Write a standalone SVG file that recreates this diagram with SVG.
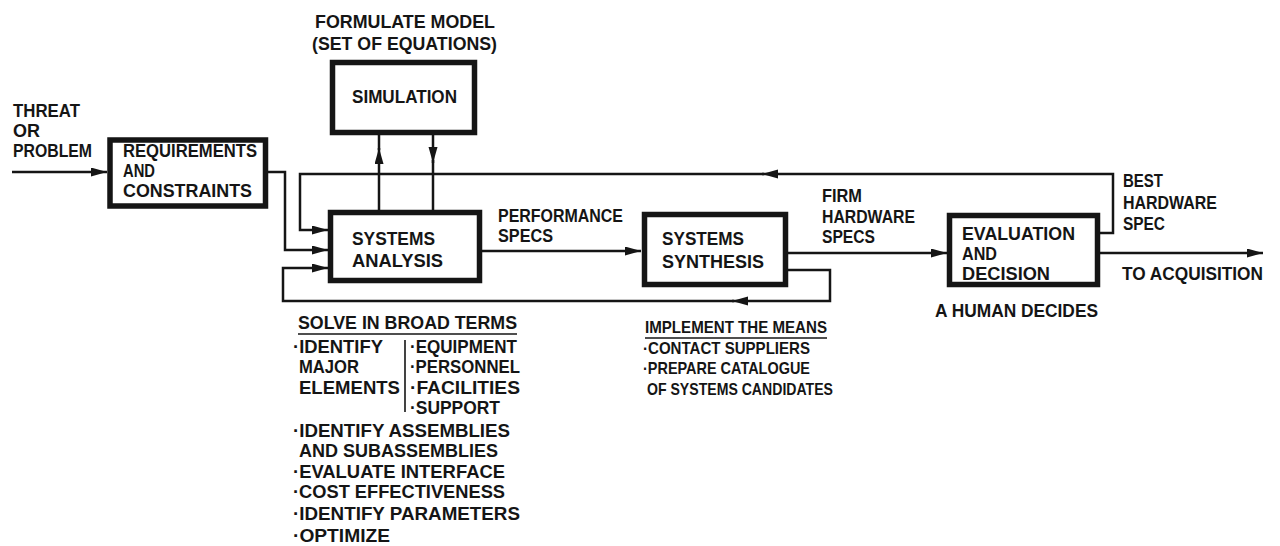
<svg xmlns="http://www.w3.org/2000/svg" width="1280" height="546" viewBox="0 0 1280 546">
<style>
text{font-family:"Liberation Sans",Arial,sans-serif;font-weight:bold;font-size:18px;fill:#151515}
.lbl{font-size:19px}
.small{font-size:17px}
.box{fill:#fff;stroke:#151515;stroke-width:5.5}
.wire{fill:none;stroke:#151515;stroke-width:2.5}
.rule{stroke:#151515;stroke-width:1.6}
</style>
<defs>
<marker id="ah" markerUnits="userSpaceOnUse" markerWidth="17" markerHeight="10" refX="16" refY="4.5" orient="auto">
<path d="M0,0 L16,4.5 L0,9 z" fill="#151515"/>
</marker>
</defs>
<rect width="1280" height="546" fill="#fff"/>

<g id="connectors">
<path class="wire" d="M12,172 H107" marker-end="url(#ah)"/>
<path class="wire" d="M268,172 H285 V250 H328" marker-end="url(#ah)"/>
<path class="wire" d="M1100,233 H1113 V174 H762" marker-end="url(#ah)"/>
<path class="wire" d="M764,174 H300 V230 H328" marker-end="url(#ah)"/>
<path class="wire" d="M379,210 V148" marker-end="url(#ah)"/>
<path class="wire" d="M379,150 V135"/>
<path class="wire" d="M433,135 V163" marker-end="url(#ah)"/>
<path class="wire" d="M433,160 V210"/>
<path class="wire" d="M482,251 H641" marker-end="url(#ah)"/>
<path class="wire" d="M788,253 H947" marker-end="url(#ah)"/>
<path class="wire" d="M788,270 H830 V301 H732" marker-end="url(#ah)"/>
<path class="wire" d="M734,301 H283 V268 H328" marker-end="url(#ah)"/>
<path class="wire" d="M1100,253 H1263" marker-end="url(#ah)"/>
</g>

<g id="threat">
<text x="13" y="117" textLength="67" lengthAdjust="spacingAndGlyphs">THREAT</text>
<text x="13" y="137" textLength="27" lengthAdjust="spacingAndGlyphs">OR</text>
<text x="13" y="157" textLength="79" lengthAdjust="spacingAndGlyphs">PROBLEM</text>
</g>

<g id="requirements">
<rect class="box" x="110" y="140" width="155.5" height="66"/>
<text class="lbl" x="123" y="157" textLength="134" lengthAdjust="spacingAndGlyphs">REQUIREMENTS</text>
<text class="lbl" x="123" y="177" textLength="32" lengthAdjust="spacingAndGlyphs">AND</text>
<text class="lbl" x="123" y="197" textLength="129" lengthAdjust="spacingAndGlyphs">CONSTRAINTS</text>
</g>

<g id="simulation">
<text x="315" y="28" textLength="180" lengthAdjust="spacingAndGlyphs">FORMULATE MODEL</text>
<text x="312" y="50" textLength="185" lengthAdjust="spacingAndGlyphs">(SET OF EQUATIONS)</text>
<rect class="box" x="332.5" y="62.5" width="142" height="70"/>
<text class="lbl" x="352" y="103" textLength="105" lengthAdjust="spacingAndGlyphs">SIMULATION</text>
</g>

<g id="systems-analysis">
<rect class="box" x="330.5" y="212.5" width="149" height="68"/>
<text class="lbl" x="352" y="245" textLength="83" lengthAdjust="spacingAndGlyphs">SYSTEMS</text>
<text class="lbl" x="352" y="267" textLength="91" lengthAdjust="spacingAndGlyphs">ANALYSIS</text>
</g>

<g id="performance-label">
<text x="498" y="222" textLength="125" lengthAdjust="spacingAndGlyphs">PERFORMANCE</text>
<text x="498" y="242" textLength="55" lengthAdjust="spacingAndGlyphs">SPECS</text>
</g>

<g id="systems-synthesis">
<rect class="box" x="644.5" y="214.5" width="141" height="70"/>
<text class="lbl" x="662" y="245" textLength="82" lengthAdjust="spacingAndGlyphs">SYSTEMS</text>
<text class="lbl" x="662" y="268" textLength="102" lengthAdjust="spacingAndGlyphs">SYNTHESIS</text>
</g>

<g id="firm-label">
<text x="822" y="202" textLength="40" lengthAdjust="spacingAndGlyphs">FIRM</text>
<text x="822" y="223" textLength="93" lengthAdjust="spacingAndGlyphs">HARDWARE</text>
<text x="822" y="243" textLength="53" lengthAdjust="spacingAndGlyphs">SPECS</text>
</g>

<g id="evaluation">
<rect class="box" x="949.5" y="215.5" width="148" height="69"/>
<text class="lbl" x="962" y="240" textLength="113" lengthAdjust="spacingAndGlyphs">EVALUATION</text>
<text class="lbl" x="962" y="260" textLength="35" lengthAdjust="spacingAndGlyphs">AND</text>
<text class="lbl" x="962" y="280" textLength="88" lengthAdjust="spacingAndGlyphs">DECISION</text>
<text x="935" y="317" textLength="163" lengthAdjust="spacingAndGlyphs">A HUMAN DECIDES</text>
</g>

<g id="best-label">
<text x="1123" y="187" textLength="40" lengthAdjust="spacingAndGlyphs">BEST</text>
<text x="1123" y="209" textLength="94" lengthAdjust="spacingAndGlyphs">HARDWARE</text>
<text x="1123" y="230" textLength="42" lengthAdjust="spacingAndGlyphs">SPEC</text>
</g>

<g id="acquisition">
<text x="1122" y="280" textLength="141" lengthAdjust="spacingAndGlyphs">TO ACQUISITION</text>
</g>

<g id="analysis-notes">
<text x="298" y="329" textLength="219" lengthAdjust="spacingAndGlyphs">SOLVE IN BROAD TERMS</text>
<line class="rule" x1="298" y1="334" x2="517" y2="334"/>
<text x="293" y="353" textLength="90" lengthAdjust="spacingAndGlyphs">·IDENTIFY</text>
<text x="299" y="373" textLength="60" lengthAdjust="spacingAndGlyphs">MAJOR</text>
<text x="299" y="394" textLength="101" lengthAdjust="spacingAndGlyphs">ELEMENTS</text>
<line class="rule" x1="405" y1="340" x2="405" y2="412"/>
<text x="410" y="353" textLength="107" lengthAdjust="spacingAndGlyphs">·EQUIPMENT</text>
<text x="410" y="373" textLength="110" lengthAdjust="spacingAndGlyphs">·PERSONNEL</text>
<text x="410" y="394" textLength="110" lengthAdjust="spacingAndGlyphs">·FACILITIES</text>
<text x="410" y="414" textLength="90" lengthAdjust="spacingAndGlyphs">·SUPPORT</text>
<text x="293" y="437" textLength="217" lengthAdjust="spacingAndGlyphs">·IDENTIFY ASSEMBLIES</text>
<text x="299" y="457" textLength="199" lengthAdjust="spacingAndGlyphs">AND SUBASSEMBLIES</text>
<text x="293" y="478" textLength="212" lengthAdjust="spacingAndGlyphs">·EVALUATE INTERFACE</text>
<text x="293" y="498" textLength="212" lengthAdjust="spacingAndGlyphs">·COST EFFECTIVENESS</text>
<text x="293" y="520" textLength="227" lengthAdjust="spacingAndGlyphs">·IDENTIFY PARAMETERS</text>
<text x="293" y="542" textLength="97" lengthAdjust="spacingAndGlyphs">·OPTIMIZE</text>
</g>

<g id="synthesis-notes">
<text class="small" x="645" y="333" textLength="182" lengthAdjust="spacingAndGlyphs">IMPLEMENT THE MEANS</text>
<line class="rule" x1="645" y1="338" x2="827" y2="338"/>
<text class="small" x="643" y="354" textLength="167" lengthAdjust="spacingAndGlyphs">·CONTACT SUPPLIERS</text>
<text class="small" x="643" y="374" textLength="167" lengthAdjust="spacingAndGlyphs">·PREPARE CATALOGUE</text>
<text class="small" x="647" y="395" textLength="186" lengthAdjust="spacingAndGlyphs">OF SYSTEMS CANDIDATES</text>
</g>
</svg>
